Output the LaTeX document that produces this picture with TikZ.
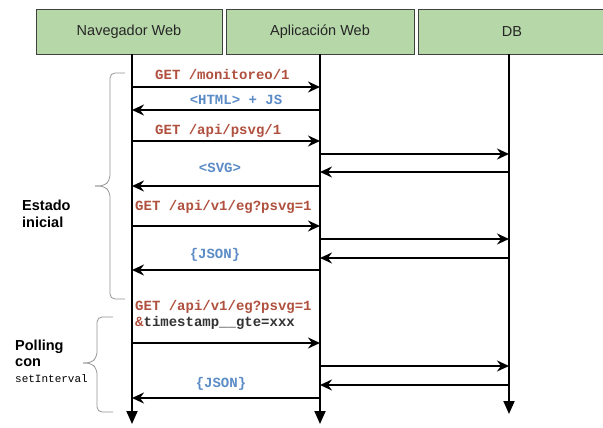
\documentclass[tikz,border=0pt]{standalone}
\usepackage{fontspec}
\setmainfont{Liberation Sans}
\setsansfont{Liberation Sans}
\setmonofont{Liberation Mono}
\usetikzlibrary{arrows.meta}

\definecolor{hdrgreen}{RGB}{182,215,168}
\definecolor{getred}{RGB}{176,80,62}
\definecolor{resblue}{RGB}{92,140,198}
\definecolor{bracegray}{RGB}{150,150,150}

\tikzset{
  hdr/.style={draw=black!75, fill=hdrgreen, line width=0.8pt, minimum height=45pt,
    inner sep=0pt, text=black!85, font=\fontsize{14.5}{16}\selectfont},
  life/.style={line width=1.8pt, -{Triangle[length=13pt,width=11pt]}},
  msg/.style={line width=1.8pt, -{Stealth[length=12pt,width=11pt,inset=4pt]}},
  req/.style={inner sep=0pt, text=getred, font=\ttfamily\bfseries\fontsize{14}{16}\selectfont},
  res/.style={req, text=resblue},
  grp/.style={inner sep=0pt, anchor=base west, font=\sffamily\bfseries\fontsize{14.5}{16}\selectfont},
  brc/.style={draw=bracegray, line width=0.8pt, rounded corners=5pt},
}

\begin{document}
\begin{tikzpicture}[x=1pt, y=-1pt]
      \useasboundingbox[fill=white] (0,0) rectangle (603,428);
      % cabeceras
      \node[hdr, minimum width=186pt] (nav) at (129,31.5) {Navegador Web};
      \node[hdr, minimum width=188pt] (app) at (320,31.5) {Aplicación Web};
      \node[hdr, minimum width=188pt] (db) at (512,31.5) {DB};
      \coordinate (navTop) at (132,54);
      \coordinate (appTop) at (320,54);
      \coordinate (dbTop) at (509,54);
      \coordinate (navBot) at (132,424);
      \coordinate (appBot) at (320,424);
      \coordinate (dbBot) at (509,414);
      \begin{scope}[life]
        \draw (navTop) to (navBot);
        \draw (appTop) to (appBot);
        \draw (dbTop) to (dbBot);
      \end{scope}
      % puntos de los mensajes
      \foreach \k/\y in {1/87, 2/110, 3/141, 4/154, 5/172, 6/186, 7/226,
                         8/239, 9/258, 10/270, 11/343, 12/366, 13/385, 14/398} {
        \coordinate (n\k) at (132,\y);
        \coordinate (a\k) at (320,\y);
        \coordinate (d\k) at (509,\y);
      }
      \begin{scope}[msg]
        \draw (n1) to (a1);
        \draw (a2) to (n2);
        \draw (n3) to (a3);
        \draw (a4) to (d4);
        \draw (d5) to (a5);
        \draw (a6) to (n6);
        \draw (n7) to (a7);
        \draw (a8) to (d8);
        \draw (d9) to (a9);
        \draw (a10) to (n10);
        \draw (n11) to (a11);
        \draw (a12) to (d12);
        \draw (d13) to (a13);
        \draw (a14) to (n14);
      \end{scope}
      % etiquetas
      \node[req, anchor=west] (m1) at (155,74) {GET /monitoreo/1};
      \node[res] (r1) at (236,100) {<HTML> + JS};
      \node[req, anchor=west] (m2) at (155,131) {GET /api/psvg/1};
      \node[res] (r2) at (220,168) {<SVG>};
      \node[req, anchor=west] (m3) at (135,207) {GET /api/v1/eg?psvg=1};
      \node[res] (r3) at (215,255) {\{JSON\}};
      \node[req, anchor=west] (m4) at (135,307) {GET /api/v1/eg?psvg=1};
      \node[req, anchor=west, text=black!80] (m5) at (135,323) {\textcolor{getred}{\&}timestamp\_\_gte=xxx};
      \node[res] (r4) at (221,384) {\{JSON\}};
      % grupos
      \draw[brc] (125,73) -- (110,73) -- (110,180) -- (104,186) -- (95,186);
      \draw[brc] (95,186) -- (104,186) -- (110,192) -- (110,299) -- (125,299);
      \node[grp] (est1) at (22,210) {Estado};
      \node[grp] (est2) at (22,227) {inicial};
      \draw[brc] (113,317) -- (97,317) -- (97,357) -- (91,363) -- (83,363);
      \draw[brc] (83,363) -- (91,363) -- (97,369) -- (97,412) -- (113,412);
      \node[grp] (pol1) at (15,350) {Polling};
      \node[grp] (pol2) at (15,366) {con};
      \node[grp, font=\ttfamily\fontsize{11}{13}\selectfont] (pol3) at (15,382) {setInterval};
    \end{tikzpicture}
\end{document}
